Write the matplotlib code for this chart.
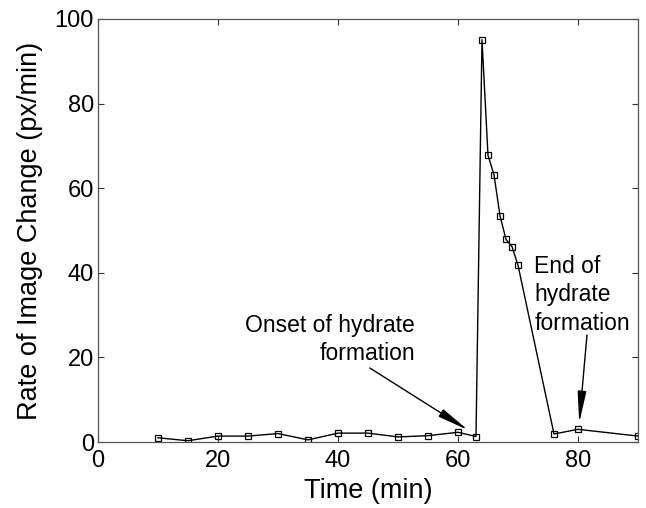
"""Rate of image change vs time, hydrate formation run."""

import matplotlib
matplotlib.use("Agg")
import matplotlib.pyplot as plt
from matplotlib import rcParams

rcParams["font.family"] = ["Liberation Sans", "DejaVu Sans"]
rcParams["axes.unicode_minus"] = False

# data
time_min = [10, 15, 20, 25, 30, 35, 40, 45, 50, 55, 60, 63,
            64, 65, 66, 67, 68, 69, 70, 76, 80, 90]
rate_px = [1.0, 0.3, 1.4, 1.4, 2.0, 0.5, 2.1, 2.1, 1.2, 1.5, 2.3, 1.3,
           95.1, 67.8, 63.2, 53.5, 47.9, 46.2, 41.8, 1.9, 3.0, 1.4]

x_ticks = [0, 20, 40, 60, 80]
y_ticks = [0, 20, 40, 60, 80, 100]

onset_label = "Onset of hydrate\nformation"
end_label = "End of\nhydrate\nformation"


def main():
    fig = plt.figure(figsize=(6.46, 5.08), dpi=100)
    ax = fig.add_axes([0.1517, 0.1299, 0.8359, 0.8327])

    ax.plot(time_min, rate_px, color="black", linewidth=1.0,
            marker="s", markersize=5, markerfacecolor="none",
            markeredgecolor="black", markeredgewidth=0.9)

    ax.set_xlim(0, 90)
    ax.set_ylim(0, 100)
    ax.set_xticks(x_ticks)
    ax.set_yticks(y_ticks)
    ax.tick_params(direction="in", length=4, width=0.8, top=True, right=True,
                   labelsize=17, colors="#333333", labelcolor="black")
    ax.tick_params(axis="x", pad=6)
    ax.tick_params(axis="y", pad=3)
    for sp in ax.spines.values():
        sp.set_color("#555555")
        sp.set_linewidth(0.9)

    ax.set_xlabel("Time (min)", fontsize=19.5, labelpad=4)
    ax.set_ylabel("Rate of Image Change (px/min)", fontsize=19.5, labelpad=8)

    arrow = dict(arrowstyle="-|>,head_length=1.6,head_width=0.22",
                 mutation_scale=12, color="black", lw=1.0,
                 shrinkA=0, shrinkB=0)

    ax.text(52.8, 24.3, onset_label, ha="right", va="center",
            multialignment="right", fontsize=16.5, linespacing=1.3)
    ax.annotate("", xy=(61.7, 2.8), xytext=(45.3, 17.5), arrowprops=arrow)

    ax.text(72.7, 34.8, end_label, ha="left", va="center",
            multialignment="left", fontsize=16.5, linespacing=1.3)
    ax.annotate("", xy=(80.2, 4.5), xytext=(81.5, 25.3), arrowprops=arrow)

    fig.savefig("out.png", dpi=100)
    plt.close(fig)


if __name__ == "__main__":
    main()
